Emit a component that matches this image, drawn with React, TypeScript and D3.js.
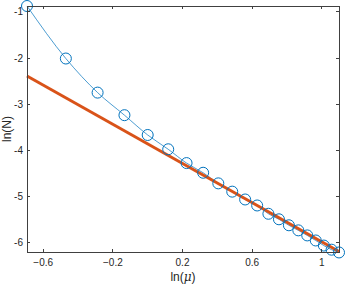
import React from "react";
import * as d3 from "d3";

// sample points: x = ln(mu), y = ln(N)
const lnMu = [
  Math.log(0.5), Math.log(0.625), Math.log(0.75), Math.log(0.875), Math.log(1.0),
  Math.log(1.125), Math.log(1.25), Math.log(1.375), Math.log(1.5), Math.log(1.625),
  Math.log(1.75), Math.log(1.875), Math.log(2.0), Math.log(2.125), Math.log(2.25),
  Math.log(2.375), Math.log(2.5), Math.log(2.625), Math.log(2.75), Math.log(2.875),
  Math.log(3.0),
];
const lnN = [
  -0.87, -2.01, -2.75, -3.24, -3.67, -3.98, -4.28, -4.49, -4.72, -4.9,
  -5.07, -5.2, -5.38, -5.5, -5.63, -5.74, -5.85, -5.96, -6.07, -6.16, -6.22,
];

// fitted line ends
const fitX = [Math.log(0.5), Math.log(3.0)];
const fitY = [-2.39, -6.2];

const xTicks = [-0.6, -0.2, 0.2, 0.6, 1];
const yTicks = [-6, -5, -4, -3, -2, -1];

const W = 346;
const H = 287;
const m = { left: 27, right: 7, top: 6, bottom: 35 };
const axisColor = "#404040";
const font = "'Liberation Sans', Arial, sans-serif";

export default function App() {
  const x = d3
    .scaleLinear()
    .domain([Math.log(0.5), Math.log(3)])
    .range([m.left, W - m.right]);
  const y = d3
    .scaleLinear()
    .domain([-6.21, -0.87])
    .range([H - m.bottom, m.top]);

  const pts = lnMu.map((v, i) => [v, lnN[i]] as [number, number]);
  const curve = d3
    .line<[number, number]>()
    .x((d) => x(d[0]))
    .y((d) => y(d[1]))
    .curve(d3.curveMonotoneX)(pts);
  const fit = d3
    .line<number>()
    .x((d) => x(d))
    .y((d, i) => y(fitY[i]))(fitX);

  const x0 = m.left;
  const x1 = W - m.right;
  const y0 = m.top;
  const y1 = H - m.bottom;
  const tl = 3;

  return (
    <svg
      width={W}
      height={H}
      style={{ position: "absolute", left: 0, top: 0, background: "#fff" }}
      fontFamily={font}
    >
      <rect x={0} y={0} width={W} height={H} fill="#fff" />
      {/* series */}
      <path d={curve ?? ""} fill="none" stroke="#0072BD" strokeWidth={0.7} />
      <path d={fit ?? ""} fill="none" stroke="#D95319" strokeWidth={3} />
      {pts.map((d, i) => (
        <circle
          key={i}
          cx={x(d[0])}
          cy={y(d[1])}
          r={5.5}
          fill="none"
          stroke="#0072BD"
          strokeWidth={1}
        />
      ))}
      {/* box */}
      <rect
        x={x0}
        y={y0}
        width={x1 - x0}
        height={y1 - y0}
        fill="none"
        stroke={axisColor}
        strokeWidth={1}
        shapeRendering="crispEdges"
      />
      {xTicks.map((t) => (
        <g key={"x" + t} stroke={axisColor} shapeRendering="crispEdges">
          <line x1={x(t)} x2={x(t)} y1={y1} y2={y1 - tl} />
          <line x1={x(t)} x2={x(t)} y1={y0} y2={y0 + tl} />
        </g>
      ))}
      {yTicks.map((t) => (
        <g key={"y" + t} stroke={axisColor} shapeRendering="crispEdges">
          <line x1={x0} x2={x0 + tl} y1={y(t)} y2={y(t)} />
          <line x1={x1} x2={x1 - tl} y1={y(t)} y2={y(t)} />
        </g>
      ))}
      {xTicks.map((t) => (
        <text
          key={"xl" + t}
          x={x(t)}
          y={y1 + 14}
          textAnchor="middle"
          fontSize={10}
          fill="#262626"
        >
          {d3.format("")(t)}
        </text>
      ))}
      {yTicks.map((t) => (
        <text
          key={"yl" + t}
          x={x0 - 4}
          y={y(t) + 3.5}
          textAnchor="end"
          fontSize={10}
          fill="#262626"
        >
          {t}
        </text>
      ))}
      <text
        x={(x0 + x1) / 2}
        y={H - 6}
        textAnchor="middle"
        fontSize={12}
        fill="#262626"
      >
        ln(<tspan fontStyle="italic" fontFamily="'DejaVu Serif', serif">μ</tspan>)
      </text>
      <text
        transform={`translate(11,${(y0 + y1) / 2}) rotate(-90)`}
        textAnchor="middle"
        fontSize={12}
        fill="#262626"
      >
        ln(N)
      </text>
    </svg>
  );
}
